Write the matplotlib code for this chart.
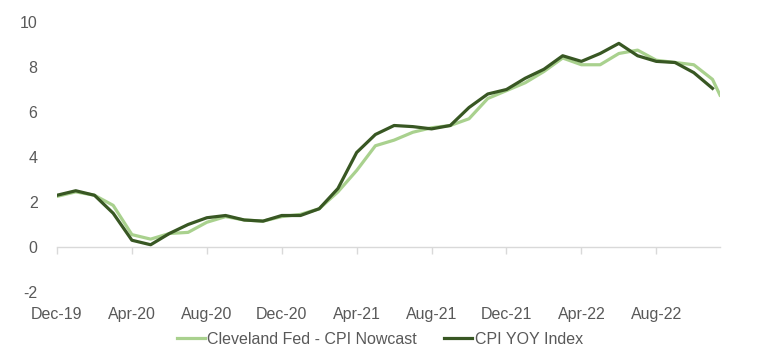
import matplotlib
matplotlib.use("Agg")
import matplotlib.pyplot as plt
import pandas as pd

# ---- data ----
cpi_dates = pd.date_range("2019-12-01", "2022-11-01", freq="MS")
cpi_yoy = [2.3, 2.5, 2.3, 1.5, 0.3, 0.1, 0.6, 1.0, 1.3, 1.4, 1.2, 1.15,
           1.4, 1.4, 1.7, 2.6, 4.2, 5.0, 5.4, 5.35, 5.25, 5.4, 6.2, 6.8,
           7.0, 7.5, 7.9, 8.5, 8.25, 8.6, 9.05, 8.5, 8.25, 8.2, 7.75, 7.05]

nowcast_dates = list(pd.date_range("2019-12-01", "2022-11-01", freq="MS")) + [pd.Timestamp("2022-11-13")]
nowcast = [2.25, 2.45, 2.3, 1.85, 0.55, 0.35, 0.6, 0.65, 1.1, 1.35, 1.2, 1.15,
           1.35, 1.45, 1.7, 2.45, 3.4, 4.5, 4.75, 5.1, 5.3, 5.4, 5.7, 6.6,
           6.95, 7.3, 7.8, 8.4, 8.1, 8.1, 8.6, 8.75, 8.3, 8.2, 8.1, 7.45, 6.75]

tick_labels = ["Dec-19", "Apr-20", "Aug-20", "Dec-20", "Apr-21", "Aug-21",
               "Dec-21", "Apr-22", "Aug-22"]
y_ticks = [-2, 0, 2, 4, 6, 8, 10]

series_names = ["Cleveland Fed - CPI Nowcast", "CPI YOY Index"]


def month_index(d):
    d = pd.Timestamp(d)
    return (d.year - 2019) * 12 + (d.month - 12) + (d.day - 1) / d.days_in_month


cpi_x = [month_index(d) for d in cpi_dates]
now_x = [month_index(d) for d in nowcast_dates]
tick_x = [month_index(pd.Timestamp("2019-12-01") + pd.DateOffset(months=4 * k))
          for k in range(len(tick_labels))]

plt.rcParams["font.family"] = ["Liberation Sans", "DejaVu Sans"]

fig = plt.figure(figsize=(7.69, 3.61), dpi=100)
ax = fig.add_axes([57 / 769, 1 - 292 / 361, (720 - 57) / 769, (292 - 22) / 361])

light = "#a9d18e"
dark = "#385723"
ax.plot(now_x, nowcast, color=light, lw=2.3, label=series_names[0], solid_joinstyle="round")
ax.plot(cpi_x, cpi_yoy, color=dark, lw=2.3, label=series_names[1], solid_joinstyle="round")

ax.set_xlim(0, max(now_x))
ax.set_ylim(-2, 10)

for s in ["top", "right", "left"]:
    ax.spines[s].set_visible(False)
ax.spines["bottom"].set_position(("data", 0))
ax.spines["bottom"].set_color("#d9d9d9")
ax.spines["bottom"].set_linewidth(1.0)

ax.set_xticks(tick_x)
ax.set_xticklabels(tick_labels)
ax.tick_params(axis="x", direction="out", length=5, color="#d9d9d9", width=1,
               pad=38, labelsize=11.5, labelcolor="#595959")
ax.set_yticks(y_ticks)
ax.set_yticklabels([str(v) for v in y_ticks])
ax.tick_params(axis="y", length=0, pad=14, labelsize=11.5, labelcolor="#595959")

fig.legend(loc="lower center", bbox_to_anchor=(0.494, 0.0), ncol=2, frameon=False,
           fontsize=11.5, handlelength=1.75, handletextpad=0.15, columnspacing=1.7,
           labelcolor="#595959")

fig.savefig("out.png", dpi=100)
